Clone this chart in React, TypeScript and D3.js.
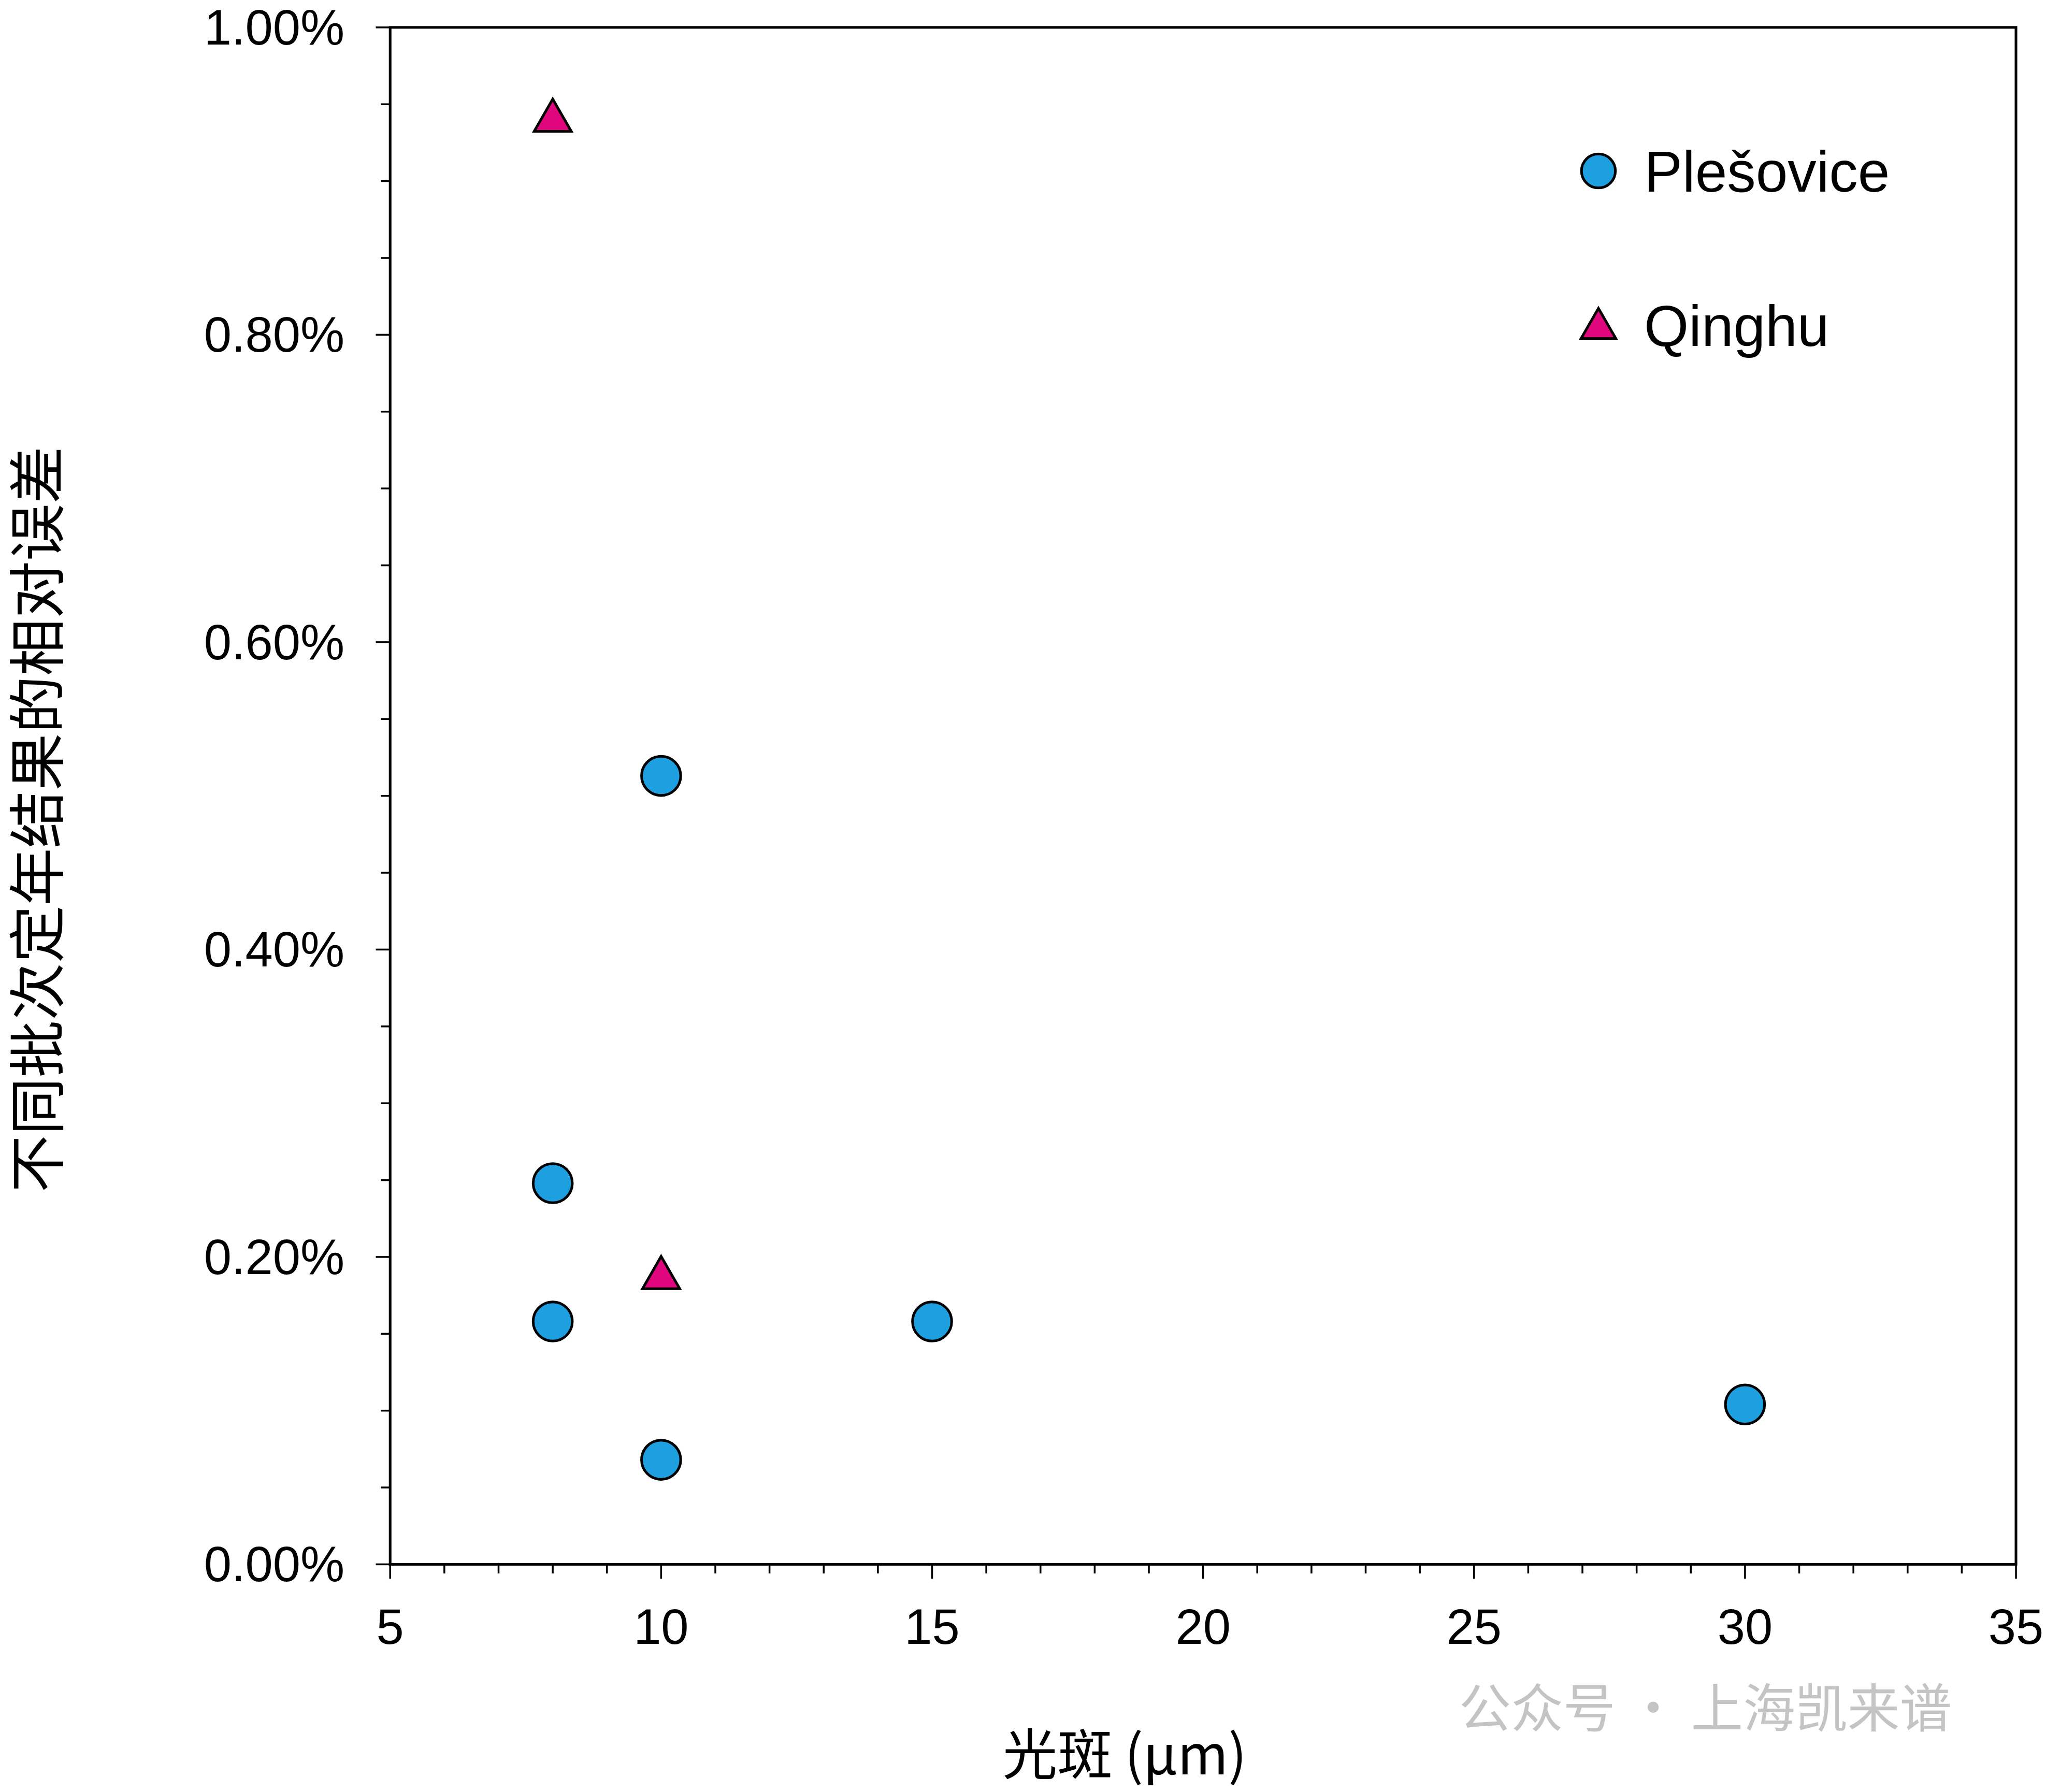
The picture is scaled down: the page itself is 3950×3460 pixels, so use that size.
import React from "react";
import * as d3 from "d3";

const plesX = [8, 8, 10, 10, 15, 30];
const plesY = [0.248, 0.158, 0.513, 0.068, 0.158, 0.104];
const qingX = [8, 10];
const qingY = [0.94, 0.187];
const xTicks = [5, 10, 15, 20, 25, 30, 35];
const yTicks = [0, 0.2, 0.4, 0.6, 0.8, 1.0];

const BLUE = "#1E9FE0";
const PINK = "#E0067E";

export default function App() {
  const L = 299, R = 1545, T = 21, B = 1199;
  const x = d3.scaleLinear().domain([5, 35]).range([L, R]);
  const y = d3.scaleLinear().domain([0, 1]).range([B, T]);
  const font = "Arial, 'Liberation Sans', Helvetica, sans-serif";
  const xMinor = d3.range(5, 36, 1);
  const yMinor = d3.range(0, 1.0001, 0.05);
  const tri = (cx: number, cy: number, s: number) =>
    `M${cx},${cy - s * 1.05} L${cx + s * 0.95},${cy + s * 0.6} L${cx - s * 0.95},${cy + s * 0.6} Z`;
  return (
    <svg width={3950} height={3460} viewBox="0 0 1568 1373.5"
      style={{ position: "absolute", left: 0, top: 0, background: "#fff" }}>
      <rect x={0} y={0} width={1568} height={1373.5} fill="#fff" />
      <rect x={L} y={T} width={R - L} height={B - T} fill="none" stroke="#000" strokeWidth={2} />
      {xMinor.map((v) => (
        <line key={"xm" + v} x1={x(v)} x2={x(v)} y1={B} y2={B + (v % 5 === 0 ? 11 : 7)} stroke="#000" strokeWidth={1.4} />
      ))}
      {yMinor.map((v, i) => (
        <line key={"ym" + i} x1={L} x2={L - (i % 4 === 0 ? 11 : 7)} y1={y(v)} y2={y(v)} stroke="#000" strokeWidth={1.4} />
      ))}
      {xTicks.map((v) => (
        <text key={"xt" + v} x={x(v)} y={1260} textAnchor="middle" fontFamily={font} fontSize={38}>{v}</text>
      ))}
      {yTicks.map((v) => (
        <text key={"yt" + v} x={264} y={y(v) + 13} textAnchor="end" fontFamily={font} fontSize={38}>{v.toFixed(2) + "%"}</text>
      ))}
      <text x={862} y={1360} textAnchor="middle" fontFamily={"'Noto Sans CJK SC', " + font} fontSize={42}>光斑 (μm)</text>
      <text transform={`translate(45,628) rotate(-90)`} textAnchor="middle" fontFamily={"'Noto Sans CJK SC', " + font} fontSize={44}>不同批次定年结果的相对误差</text>
      {plesX.map((v, i) => (
        <circle key={"p" + i} cx={x(v)} cy={y(plesY[i])} r={15} fill={BLUE} stroke="#000" strokeWidth={2} />
      ))}
      {qingX.map((v, i) => (
        <path key={"q" + i} d={tri(x(v), y(qingY[i]), 15)} fill={PINK} stroke="#000" strokeWidth={2} />
      ))}
      <circle cx={1225} cy={131} r={13} fill={BLUE} stroke="#000" strokeWidth={2} />
      <text x={1260} y={147} fontFamily={font} fontSize={44}>Plešovice</text>
      <path d={tri(1225, 251, 14)} fill={PINK} stroke="#000" strokeWidth={2} />
      <text x={1260} y={265} fontFamily={font} fontSize={44}>Qinghu</text>
      <text x={1118} y={1324} fontFamily={"'Noto Sans CJK SC', " + font} fontSize={40} fill="#c4c4c4">公众号 · 上海凯来谱</text>
    </svg>
  );
}
